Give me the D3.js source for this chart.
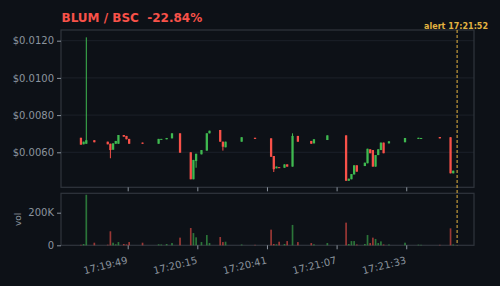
<!DOCTYPE html>
<html>
<head>
<meta charset="utf-8">
<script src="https://cdn.jsdelivr.net/npm/d3@7"></script>
<style>
  html, body { margin: 0; padding: 0; background: #0d1117; }
  text { font-family: "DejaVu Sans", sans-serif; }
</style>
</head>
<body>
<div id="chart"></div>
<script>
// candles, one per second
const times  = ["17:19:31","17:19:32","17:19:33","17:19:36","17:19:41","17:19:42","17:19:43","17:19:44","17:19:45","17:19:47","17:19:48","17:19:49","17:19:54","17:20:00","17:20:01","17:20:03","17:20:05","17:20:08","17:20:12","17:20:13","17:20:14","17:20:16","17:20:18","17:20:19","17:20:23","17:20:24","17:20:25","17:20:31","17:20:36","17:20:42","17:20:43","17:20:44","17:20:45","17:20:47","17:20:48","17:20:50","17:20:52","17:20:57","17:20:58","17:21:03","17:21:10","17:21:11","17:21:12","17:21:13","17:21:14","17:21:17","17:21:18","17:21:19","17:21:20","17:21:21","17:21:22","17:21:23","17:21:24","17:21:26","17:21:32","17:21:37","17:21:38","17:21:45","17:21:49","17:21:50"]
const opens  = [0.00678,0.00643,0.00646,0.00665,0.00657,0.00646,0.00614,0.00646,0.00646,0.00693,0.00688,0.00672,0.00652,0.00646,0.00670,0.00670,0.00675,0.00702,0.00600,0.00455,0.00553,0.00589,0.00609,0.00702,0.00720,0.00657,0.00627,0.00657,0.00678,0.00675,0.00580,0.00514,0.00520,0.00517,0.00535,0.00523,0.00688,0.00661,0.00648,0.00666,0.00691,0.00447,0.00455,0.00481,0.00530,0.00526,0.00541,0.00616,0.00612,0.00523,0.00585,0.00612,0.00652,0.00648,0.00654,0.00672,0.00675,0.00682,0.00681,0.00487]
const highs  = [0.00678,0.00657,0.01218,0.00665,0.00657,0.00646,0.00648,0.00661,0.00693,0.00693,0.00688,0.00672,0.00652,0.00672,0.00672,0.00677,0.00702,0.00702,0.00600,0.00559,0.00592,0.00612,0.00702,0.00716,0.00720,0.00657,0.00657,0.00681,0.00678,0.00675,0.00580,0.00523,0.00520,0.00535,0.00535,0.00702,0.00688,0.00661,0.00670,0.00691,0.00691,0.00458,0.00483,0.00530,0.00530,0.00544,0.00619,0.00616,0.00612,0.00585,0.00616,0.00652,0.00652,0.00659,0.00677,0.00678,0.00677,0.00682,0.00681,0.00501]
const lows   = [0.00641,0.00643,0.00646,0.00654,0.00643,0.00568,0.00614,0.00646,0.00646,0.00684,0.00670,0.00646,0.00646,0.00646,0.00670,0.00670,0.00675,0.00598,0.00455,0.00455,0.00517,0.00589,0.00609,0.00702,0.00657,0.00609,0.00627,0.00657,0.00672,0.00576,0.00494,0.00514,0.00517,0.00517,0.00523,0.00523,0.00657,0.00646,0.00648,0.00666,0.00447,0.00447,0.00455,0.00481,0.00496,0.00526,0.00541,0.00595,0.00523,0.00523,0.00585,0.00612,0.00595,0.00648,0.00654,0.00672,0.00675,0.00675,0.00487,0.00487]
const closes = [0.00641,0.00657,0.00665,0.00654,0.00643,0.00612,0.00648,0.00661,0.00693,0.00684,0.00670,0.00646,0.00646,0.00672,0.00672,0.00677,0.00702,0.00598,0.00455,0.00559,0.00592,0.00612,0.00702,0.00716,0.00657,0.00630,0.00657,0.00681,0.00672,0.00576,0.00509,0.00523,0.00517,0.00535,0.00523,0.00688,0.00657,0.00646,0.00670,0.00691,0.00447,0.00458,0.00483,0.00530,0.00496,0.00544,0.00619,0.00595,0.00523,0.00585,0.00616,0.00652,0.00595,0.00659,0.00677,0.00678,0.00677,0.00675,0.00487,0.00501]
const volumes = [3000,8000,310000,16000,4000,86000,16000,6000,20000,8000,5000,20000,16000,6000,5000,8000,14000,47000,106000,75000,49000,20000,63000,14000,51000,20000,22000,5000,3000,96000,8000,6000,22000,8000,26000,125000,20000,14000,6000,14000,139000,8000,26000,26000,5000,8000,63000,14000,47000,39000,14000,24000,5000,5000,16000,4000,3000,3000,104000,5000]

const xTicks = ["17:19:49","17:20:15","17:20:41","17:21:07","17:21:33"]
const priceTicks = [0.0060,0.0080,0.0100,0.0120]
const volTicks = [0,200000]
const alertTime = "17:21:52"
const title = "BLUM / BSC  -22.84%"

const W = 500, H = 286
const left = 61, right = 474
const pTop = 30, pBot = 187.3, vTop = 193.3, vBot = 245.3
const UP = "#3fb950", DOWN = "#f85149", GOLD = "#e3b341"
const TXT = "#8b949e", EDGE = "#30363d", GRID = "#1c2129"

const parse = d3.timeParse("%H:%M:%S")

const data = times.map((t,i) => ({
  t: parse(t), o: opens[i], h: highs[i], l: lows[i], c: closes[i], v: volumes[i]
}))

const svg = d3.select("#chart").append("svg")
  .attr("width", W).attr("height", H)
  .style("background", "#0d1117")

const x = d3.scaleTime()
  .domain([parse("17:19:24"), d3.timeSecond.offset(parse("17:21:58"), 0)])
  .range([left, right])
x.domain([new Date(+parse("17:19:24") + 100), new Date(+parse("17:21:58") + 300)])

const y = d3.scaleLinear().domain([0.004118, 0.012575]).range([pBot, pTop])
const yv = d3.scaleLinear().domain([0, 319000]).range([vBot, vTop])

const step = x(d3.timeSecond.offset(parse("17:20:00"), 1)) - x(parse("17:20:00"))
const bw = step * 0.85
const xs = d => x(d.t) + step * 0.12
const col = d => d.c >= d.o ? UP : DOWN

// price grid
svg.append("g").selectAll("line").data(priceTicks).enter().append("line")
  .attr("x1", left).attr("x2", right)
  .attr("y1", d => y(d)).attr("y2", d => y(d))
  .attr("stroke", GRID).attr("stroke-width", 1)

// panels
svg.append("rect").attr("x", left).attr("y", pTop).attr("width", right-left).attr("height", pBot-pTop)
  .attr("fill", "none").attr("stroke", EDGE).attr("stroke-width", 1.2)
svg.append("rect").attr("x", left).attr("y", vTop).attr("width", right-left).attr("height", vBot-vTop)
  .attr("fill", "none").attr("stroke", EDGE).attr("stroke-width", 1.2)

// y axis price
const yAxis = svg.append("g").attr("transform", `translate(${left},0)`)
  .call(d3.axisLeft(y).tickValues(priceTicks).tickSize(4).tickPadding(3).tickFormat(d => "$" + d.toFixed(4)))
yAxis.select(".domain").remove()
yAxis.selectAll("line").attr("stroke", TXT)
yAxis.selectAll("text").attr("fill", TXT).attr("font-size", "10px").attr("font-family", "DejaVu Sans")

// y axis volume
const vAxis = svg.append("g").attr("transform", `translate(${left},0)`)
  .call(d3.axisLeft(yv).tickValues(volTicks).tickSize(4).tickPadding(3).tickFormat(d => d === 0 ? "0" : (d/1000) + "K"))
vAxis.select(".domain").remove()
vAxis.selectAll("line").attr("stroke", TXT)
vAxis.selectAll("text").attr("fill", TXT).attr("font-size", "10px").attr("font-family", "DejaVu Sans")

svg.append("text").attr("transform", `translate(21,${(vTop+vBot)/2}) rotate(-90)`)
  .attr("text-anchor", "middle").attr("fill", TXT).attr("font-size", "9px").text("vol")

// x axes
const xv = xTicks.map(parse)
const xAxisTop = svg.append("g").attr("transform", `translate(0,${pBot})`)
  .call(d3.axisBottom(x).tickValues(xv).tickSize(4).tickFormat(""))
xAxisTop.select(".domain").remove()
xAxisTop.selectAll("line").attr("stroke", TXT)

const xAxis = svg.append("g").attr("transform", `translate(0,${vBot})`)
  .call(d3.axisBottom(x).tickValues(xv).tickSize(4).tickFormat(d3.timeFormat("%H:%M:%S")))
xAxis.select(".domain").remove()
xAxis.selectAll("line").attr("stroke", TXT)
xAxis.selectAll("text")
  .attr("fill", TXT).attr("font-size", "10px").attr("font-family", "DejaVu Sans")
  .attr("text-anchor", "end").attr("y", 0).attr("dy", 0)
  .attr("transform", "translate(0,18) rotate(-14)")

// candles
const cg = svg.append("g")
cg.selectAll("line").data(data).enter().append("line")
  .attr("x1", d => xs(d) + bw/2).attr("x2", d => xs(d) + bw/2)
  .attr("y1", d => y(d.h)).attr("y2", d => y(d.l))
  .attr("stroke", col).attr("stroke-width", 1)
cg.selectAll("rect").data(data).enter().append("rect")
  .attr("x", xs).attr("width", bw)
  .attr("y", d => y(Math.max(d.o, d.c)))
  .attr("height", d => Math.max(1, Math.abs(y(d.o) - y(d.c))))
  .attr("fill", col)

// volume bars
svg.append("g").selectAll("rect").data(data).enter().append("rect")
  .attr("x", d => xs(d) + 0.3).attr("width", bw - 0.6)
  .attr("y", d => yv(d.v)).attr("height", d => vBot - yv(d.v))
  .attr("fill", col).attr("opacity", 0.6)

// alert line
const ax = x(parse(alertTime))
svg.append("line").attr("x1", ax).attr("x2", ax).attr("y1", pTop).attr("y2", vBot)
  .attr("stroke", GOLD).attr("stroke-width", 1.2).attr("stroke-dasharray", "3 2").attr("opacity", 0.85)
svg.append("text").attr("x", 488).attr("y", 28.5).attr("text-anchor", "end")
  .attr("fill", GOLD).attr("font-size", "8px").attr("font-weight", "bold").text("alert " + alertTime)

// title
svg.append("text").attr("x", 61.5).attr("y", 22).attr("fill", DOWN)
  .attr("font-size", "12px").attr("font-weight", "bold").style("white-space", "pre")
  .text(title)
</script>
</body>
</html>
